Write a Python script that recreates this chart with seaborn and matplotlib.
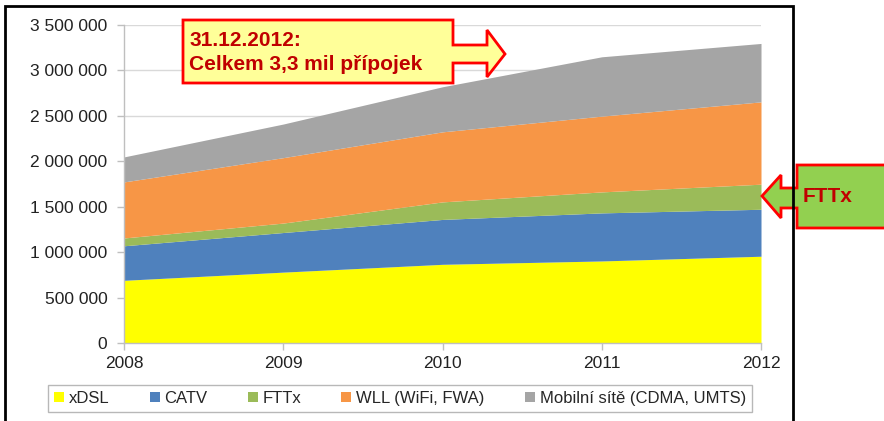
import numpy as np
import matplotlib
matplotlib.use("Agg")
import matplotlib.pyplot as plt
import seaborn as sns
from matplotlib.patches import Polygon, Rectangle, Patch
from matplotlib.ticker import FuncFormatter

years = [2008, 2009, 2010, 2011, 2012]
series_names = ["xDSL", "CATV", "FTTx", "WLL (WiFi, FWA)", "Mobilní sítě (CDMA, UMTS)"]
xdsl = [690000, 780000, 866000, 903000, 955000]
catv = [380000, 436000, 494000, 529000, 517000]
fttx = [86000, 104000, 193000, 231000, 276000]
wll = [617000, 720000, 771000, 834000, 906000]
mobile = [275000, 370000, 496000, 653000, 643000]
colors = ["#FFFF00", "#4F81BD", "#9BBB59", "#F79646", "#A5A5A5"]
yticks = [0, 500000, 1000000, 1500000, 2000000, 2500000, 3000000, 3500000]

sns.set_theme(style="white")
plt.rcParams["font.family"] = ["Liberation Sans", "DejaVu Sans"]

W, H = 884, 421
fig = plt.figure(figsize=(W / 100, H / 100), dpi=100)
ax = fig.add_axes([124 / W, 1 - 343 / H, (761 - 124) / W, (343 - 25) / H])

ax.stackplot(years, xdsl, catv, fttx, wll, mobile, colors=colors, labels=series_names,
             linewidth=0, zorder=2)

ax.set_xlim(years[0], years[-1])
ax.set_ylim(0, yticks[-1])
ax.set_yticks(yticks)
ax.set_xticks(years)
ax.yaxis.set_major_formatter(FuncFormatter(lambda v, p: f"{int(v):,}".replace(",", " ")))
ax.grid(axis="y", color="#D9D9D9", linewidth=1, zorder=0)
ax.set_axisbelow(True)
for s in ["top", "right"]:
    ax.spines[s].set_visible(False)
for s in ["left", "bottom"]:
    ax.spines[s].set_color("#BFBFBF")
    ax.spines[s].set_linewidth(1)
    ax.spines[s].set_zorder(3)
ax.tick_params(axis="both", colors="#BFBFBF", labelcolor="#222222", labelsize=12.5,
               length=5, width=1, direction="out")
ax.tick_params(axis="y", pad=7)
ax.tick_params(axis="x", pad=4)
ax.tick_params(left=True, bottom=True)

# legend
handles = [Patch(facecolor=c, edgecolor="none") for c in colors]
leg = fig.legend(handles, series_names, loc="center", bbox_to_anchor=(400 / W, 1 - 398.5 / H),
                 ncol=5, fontsize=12, frameon=True, fancybox=False, handlelength=0.6,
                 handleheight=0.6, handletextpad=0.3, columnspacing=2.4, borderpad=0.35,
                 borderaxespad=0)
leg.get_frame().set_edgecolor("#A6A6A6")
leg.get_frame().set_linewidth(1)


def px(points):
    return [(x / W, 1 - y / H) for x, y in points]


# outer frame
fig.patches.append(Rectangle((5 / W, -0.02), (793 - 5) / W, 1 - 6 / H + 0.02,
                             transform=fig.transFigure, fill=False, edgecolor="black",
                             linewidth=2, zorder=5))

# callout with right arrow
callout = [(183, 20), (453, 20), (453, 45), (487, 45), (487, 30), (505, 54),
           (487, 77), (487, 63), (453, 63), (453, 83), (183, 83)]
fig.patches.append(Polygon(px(callout), closed=True, transform=fig.transFigure,
                           facecolor="#FFFF99", edgecolor="#FF0000", linewidth=2, zorder=6))
fig.text(189 / W, 1 - 40 / H, "31.12.2012:", color="#C00000", fontsize=15,
         fontweight="bold", va="center", ha="left", zorder=7)
fig.text(189 / W, 1 - 65 / H, "Celkem 3,3 mil přípojek", color="#C00000", fontsize=15,
         fontweight="bold", va="center", ha="left", zorder=7)

# FTTx callout with left arrow
fttx_box = [(900, 165), (797, 165), (797, 188), (781, 188), (781, 175), (762, 196),
            (781, 218), (781, 208), (797, 208), (797, 228), (900, 228)]
fig.patches.append(Polygon(px(fttx_box), closed=True, transform=fig.transFigure,
                           facecolor="#92D050", edgecolor="#FF0000", linewidth=2, zorder=4))
fig.text(803 / W, 1 - 197 / H, "FTTx", color="#C00000", fontsize=15,
         fontweight="bold", va="center", ha="left", zorder=7)

fig.savefig("out.png", dpi=100)
